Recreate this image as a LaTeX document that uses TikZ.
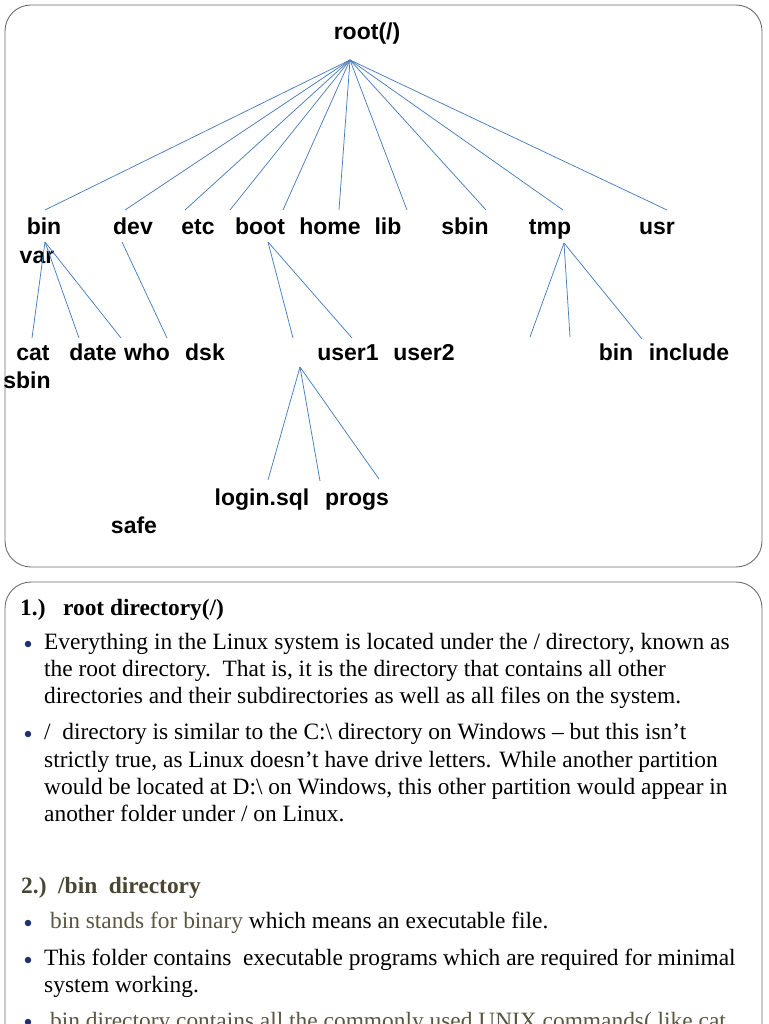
\documentclass[tikz,border=0pt]{standalone}
\usepackage{fontspec}
\setmainfont{Liberation Serif}
\newfontfamily\treefont{Liberation Sans}
\definecolor{linkblue}{HTML}{4A7EBB}
\definecolor{framegray}{HTML}{6E6E6E}
\definecolor{bulletblue}{HTML}{1F3270}
\definecolor{olivehead}{HTML}{4A4631}
\definecolor{olivetext}{HTML}{5B5641}
\begin{document}
\begin{tikzpicture}[x=1pt,y=-1pt,
  tree/.style={font=\treefont\bfseries\fontsize{23}{27}\selectfont, inner sep=0pt, anchor=base},
  link/.style={draw=linkblue, line width=0.75pt},
  frame/.style={draw=framegray, line width=0.9pt, rounded corners=26pt},
  body/.style={font=\fontsize{23.4}{27.3}\selectfont, inner sep=0pt, anchor=base west},
  head/.style={font=\bfseries\fontsize{23.4}{27.3}\selectfont, inner sep=0pt, anchor=base west},
  dot/.style={circle, fill=bulletblue, inner sep=0pt, minimum size=6.5pt}
]
\useasboundingbox (0,0) rectangle (768,1024);
\fill[white] (0,0) rectangle (768,1024);

% frames
\draw[frame] (5,5) rectangle (762,567);
\draw[frame] (5,582) rectangle (762,1080);

% tree labels
\node[tree] (root) at (367,40) {root(/)};
\node[tree] (nbin)  at (44,235)  {bin};
\node[tree] (ndev)  at (133,235) {dev};
\node[tree] (netc)  at (198,235) {etc};
\node[tree] (nboot) at (260,235) {boot};
\node[tree] (nhome) at (330,235) {home};
\node[tree] (nlib)  at (388,235) {lib};
\node[tree] (nsbin) at (465,235) {sbin};
\node[tree] (ntmp)  at (550,235) {tmp};
\node[tree] (nusr)  at (657,235) {usr};
\node[tree] (nvar)  at (37,263)  {var};
\node[tree] (ncat)  at (33,360)  {cat};
\node[tree] (ndate) at (93,360)  {date};
\node[tree] (nwho)  at (147,360) {who};
\node[tree] (ndsk)  at (205,360) {dsk};
\node[tree] (nuserA) at (348,360) {user1};
\node[tree] (nuserB) at (424,360) {user2};
\node[tree] (nbinB) at (616,360) {bin};
\node[tree] (ninc)  at (689,360) {include};
\node[tree] (nsbinB) at (27,388) {sbin};
\node[tree] (nlogin) at (262,505) {login.sql};
\node[tree] (nprogs) at (357,505) {progs};
\node[tree] (nsafe) at (134,533) {safe};

% connector end points
\coordinate (rf) at (350,60);
\coordinate (r1) at (45,210);
\coordinate (r2) at (125,210);
\coordinate (r3) at (185,210);
\coordinate (r4) at (230,210);
\coordinate (r5) at (283,210);
\coordinate (r6) at (339,210);
\coordinate (r7) at (407,210);
\coordinate (r8) at (486,210);
\coordinate (r9) at (563,210);
\coordinate (r10) at (667,210);
\foreach \e in {r1,r2,r3,r4,r5,r6,r7,r8,r9,r10} \draw[link] (rf) -- (\e);

\coordinate (bf) at (45,242);
\coordinate (b1) at (32,338);
\coordinate (b2) at (79,338);
\coordinate (b3) at (121,338);
\foreach \e in {b1,b2,b3} \draw[link] (bf) -- (\e);

\coordinate (df) at (122,242);
\coordinate (d1) at (167,338);
\draw[link] (df) -- (d1);

\coordinate (of) at (268,242);
\coordinate (o1) at (293,338);
\coordinate (o2) at (352,338);
\foreach \e in {o1,o2} \draw[link] (of) -- (\e);

\coordinate (tf) at (564,243);
\coordinate (t1) at (530,337);
\coordinate (t2) at (570,337);
\coordinate (t3) at (642,339);
\foreach \e in {t1,t2,t3} \draw[link] (tf) -- (\e);

\coordinate (uf) at (300,367);
\coordinate (u1) at (268,480);
\coordinate (u2) at (320,481);
\coordinate (u3) at (379,479);
\foreach \e in {u1,u2,u3} \draw[link] (uf) -- (\e);

% lower text
\node[head] (h1) at (20,615) {1.)\ \ \ root directory(/)};
\node[dot] (p1) at (28,644) {};
\node[body] (l1) at (44,649) {Everything in the Linux system is located under the / directory, known as};
\node[body] (l2) at (44,676) {the root directory.\ \ That is, it is the directory that contains all other};
\node[body] (l3) at (44,703) {directories and their subdirectories as well as all files on the system.};
\node[dot] (p2) at (28,734) {};
\node[body] (l4) at (44,739) {/\ \ directory is similar to the C:\textbackslash{} directory on Windows – but this isn’t};
\node[body] (l5) at (44,767) {strictly true, as Linux doesn’t have drive letters. While another partition};
\node[body] (l6) at (44,794) {would be located at D:\textbackslash{} on Windows, this other partition would appear in};
\node[body] (l7) at (44,821) {another folder under / on Linux.};

\node[head, text=olivehead] (h2) at (21,893) {2.)\ \ /bin\ \ directory};
\node[dot] (p3) at (28,923) {};
\node[body] (l8) at (44,928) {\ {\color{olivetext}bin stands for binary} which means an executable file.};
\node[dot] (p4) at (28,960) {};
\node[body] (l9) at (44,965) {This folder contains\ \ executable programs which are required for minimal};
\node[body] (l10) at (44,992) {system working.};
\node[dot] (p5) at (28,1022) {};
\node[body, text=olivetext] (l11) at (44,1028) {\ bin directory contains all the commonly used UNIX commands( like cat,};
\end{tikzpicture}
\end{document}
